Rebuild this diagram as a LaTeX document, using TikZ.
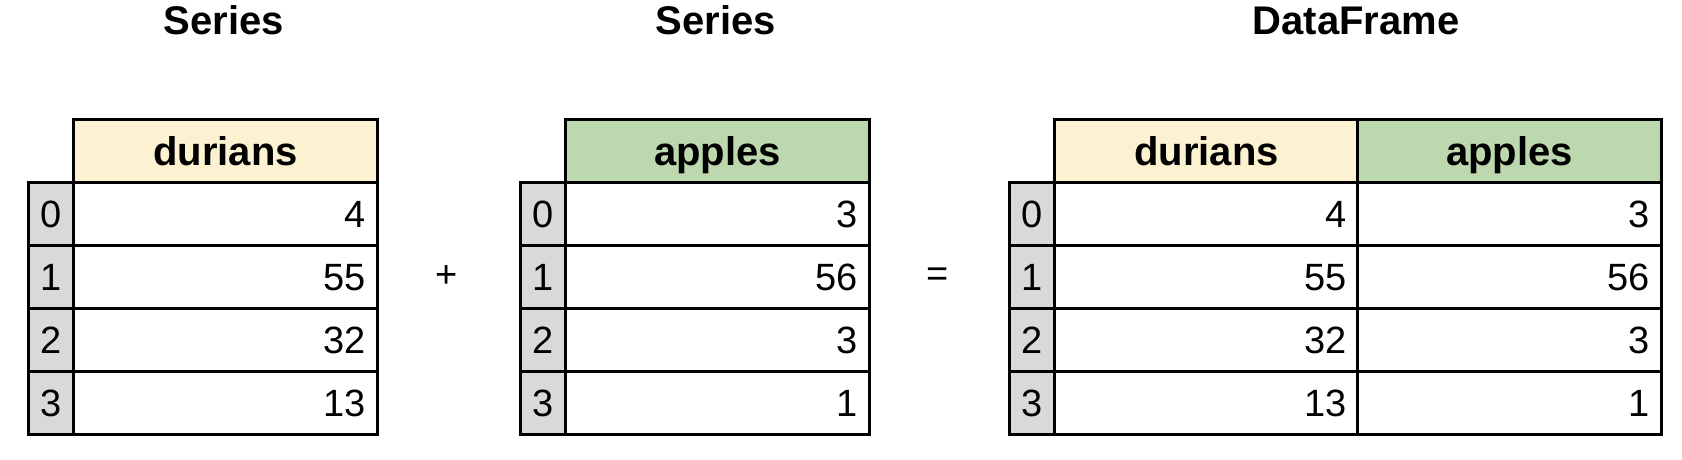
\documentclass[tikz,border=0pt]{standalone}
\usepackage{fontspec}
\setmainfont{Liberation Sans}
\definecolor{hdrY}{HTML}{FCF2D2}
\definecolor{hdrG}{HTML}{BDD8AE}
\definecolor{idxG}{HTML}{D9D9D9}
\tikzset{
  cellbox/.style={draw=black, line width=3pt, anchor=north west, inner sep=0pt,
    minimum height=63pt, font=\fontsize{38}{38}\selectfont, text height=27pt, text depth=0pt},
  valcell/.style={cellbox, fill=white, minimum width=304pt, text width=280pt, align=right},
  hdrcell/.style={cellbox, minimum width=304pt, text width=304pt, align=center,
    font=\fontsize{40}{40}\selectfont\bfseries, text height=29pt},
  idxcell/.style={cellbox, fill=idxG, minimum width=45pt, text width=45pt, align=center},
  titletext/.style={anchor=base, font=\fontsize{40}{40}\selectfont\bfseries},
  optext/.style={font=\fontsize{38}{38}\selectfont}
}
\begin{document}
\begin{tikzpicture}[x=1pt,y=-1pt]
\useasboundingbox (0,0) rectangle (1682,460);
\fill[white] (0,0) rectangle (1682,460);
% titles
\node[titletext] (t1) at (224,35) {Series};
\node[titletext] (t2) at (716,35) {Series};
\node[titletext] (t3) at (1356,35) {DataFrame};
% operators
\node[optext] (plus) at (447,277) {+};
\node[optext] (eq) at (938,277) {=};
% left table
\node[hdrcell, fill=hdrY] (L-h) at (72,118) {durians};
\foreach \r/\v [count=\i from 0] in {0/4,1/55,2/32,3/13} {
  \node[idxcell] (L-i\r) at (27,181+63*\i) {\r};
  \node[valcell] (L-v\r) at (72,181+63*\i) {\v};
}
% middle table
\node[hdrcell, fill=hdrG] (M-h) at (564,118) {apples};
\foreach \r/\v [count=\i from 0] in {0/3,1/56,2/3,3/1} {
  \node[idxcell] (M-i\r) at (519,181+63*\i) {\r};
  \node[valcell] (M-v\r) at (564,181+63*\i) {\v};
}
% right table
\node[hdrcell, fill=hdrY] (R-h1) at (1053,118) {durians};
\node[hdrcell, fill=hdrG] (R-h2) at (1356,118) {apples};
\foreach \r/\a/\b [count=\i from 0] in {0/4/3,1/55/56,2/32/3,3/13/1} {
  \node[idxcell] (R-i\r) at (1008,181+63*\i) {\r};
  \node[valcell] (R-a\r) at (1053,181+63*\i) {\a};
  \node[valcell] (R-b\r) at (1356,181+63*\i) {\b};
}
\end{tikzpicture}
\end{document}
